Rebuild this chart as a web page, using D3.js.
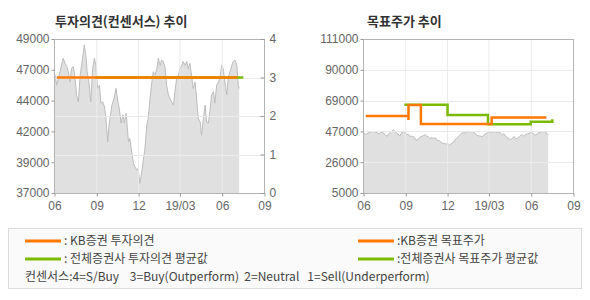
<!DOCTYPE html>
<html>
<head>
<meta charset="utf-8">
<script src="https://cdn.jsdelivr.net/npm/d3@7"></script>
<style>
    body { margin: 0; background: #fff; }
    svg text { font-family: "Liberation Sans", Arial, sans-serif; }
    .title { font-family: "Noto Sans CJK KR", sans-serif; font-weight: bold; font-size: 13px; fill: #333; }
    .axis text { fill: #666; font-size: 12px; }
    .legend text { font-family: "Noto Sans CJK KR", sans-serif; font-size: 12px; fill: #444; white-space: pre; }
</style>
</head>
<body>
<svg id="chart" width="590" height="300"></svg>
<script>
// x축 눈금
const xTickDates = ["2018-06-01", "2018-09-01", "2018-12-01", "2019-03-01", "2019-06-01", "2019-09-01"];
const xTickLabels = ["06", "09", "12", "19/03", "06", "09"];

// 왼쪽 차트 눈금
const priceTicksLeft = [37000, 39400, 41800, 44200, 46600, 49000];
const priceLabelsLeft = ["37000", "39000", "42000", "44000", "47000", "49000"];
const opinionTicks = [0, 1, 2, 3, 4];

// 오른쪽 차트 눈금
const priceTicksRight = [5000, 26200, 47400, 68600, 89800, 111000];
const priceLabelsRight = ["5000", "26000", "47000", "69000", "90000", "111000"];

// 주가
const closePrices = [
    ["2018-06-01", 46000], ["2018-06-03", 46200], ["2018-06-07", 45400], ["2018-06-14", 46450],
    ["2018-06-21", 47500], ["2018-06-25", 47100], ["2018-06-29", 46850], ["2018-07-02", 46450],
    ["2018-07-06", 45650], ["2018-07-09", 46700], ["2018-07-13", 46850], ["2018-07-17", 45950],
    ["2018-07-20", 44650], ["2018-07-24", 44100], ["2018-07-28", 46200], ["2018-07-31", 46950],
    ["2018-08-04", 48000], ["2018-08-06", 48550], ["2018-08-10", 47500], ["2018-08-12", 46450],
    ["2018-08-16", 45650], ["2018-08-20", 44100], ["2018-08-24", 46700], ["2018-08-28", 47500],
    ["2018-08-31", 46950], ["2018-09-04", 45150], ["2018-09-08", 45400], ["2018-09-11", 44000],
    ["2018-09-15", 44100], ["2018-09-19", 43700], ["2018-09-22", 42800], ["2018-09-26", 41000],
    ["2018-09-29", 42300], ["2018-10-05", 43850], ["2018-10-10", 44400], ["2018-10-14", 45150],
    ["2018-10-18", 44100], ["2018-10-21", 43600], ["2018-10-25", 42450], ["2018-10-29", 43100],
    ["2018-11-01", 42450], ["2018-11-05", 43200], ["2018-11-10", 41000], ["2018-11-13", 41250],
    ["2018-11-17", 40200], ["2018-11-21", 39300], ["2018-11-24", 39050], ["2018-11-28", 38800],
    ["2018-12-01", 38900], ["2018-12-05", 37750], ["2018-12-09", 38650], ["2018-12-12", 39450],
    ["2018-12-16", 40500], ["2018-12-20", 42300], ["2018-12-23", 42800], ["2018-12-27", 44400],
    ["2018-12-31", 45650], ["2019-01-03", 46450], ["2019-01-07", 46200], ["2019-01-11", 46700],
    ["2019-01-14", 47500], ["2019-01-18", 46950], ["2019-01-21", 47350], ["2019-01-25", 47250],
    ["2019-01-29", 46700], ["2019-02-01", 45400], ["2019-02-05", 44650], ["2019-02-08", 44400],
    ["2019-02-12", 44100], ["2019-02-16", 43850], ["2019-02-19", 44900], ["2019-02-23", 45950],
    ["2019-02-27", 46200], ["2019-03-02", 46700], ["2019-03-06", 46950], ["2019-03-09", 47250],
    ["2019-03-13", 46950], ["2019-03-17", 47250], ["2019-03-20", 46700], ["2019-03-24", 47100],
    ["2019-03-28", 45950], ["2019-03-31", 45150], ["2019-04-04", 45650], ["2019-04-08", 44100],
    ["2019-04-11", 42800], ["2019-04-15", 42550], ["2019-04-18", 41500], ["2019-04-22", 42800],
    ["2019-04-26", 43850], ["2019-04-29", 42550], ["2019-05-03", 42450], ["2019-05-07", 43600],
    ["2019-05-10", 44650], ["2019-05-14", 44900], ["2019-05-17", 44000], ["2019-05-21", 45400],
    ["2019-05-25", 45650], ["2019-05-28", 45950], ["2019-06-01", 46950], ["2019-06-04", 46700],
    ["2019-06-08", 45650], ["2019-06-12", 44650], ["2019-06-15", 45950], ["2019-06-19", 46450],
    ["2019-06-23", 46950], ["2019-06-26", 47250], ["2019-06-30", 47350], ["2019-07-04", 46950],
    ["2019-07-07", 45400], ["2019-07-09", 45150]
];

// 투자의견
const kbOpinion = [["2018-06-07", 3], ["2019-07-05", 3]];
const avgOpinion = [["2018-08-30", 3], ["2019-07-18", 3]];

// 목표주가
const kbTarget = [
    ["2018-06-07", 58000], ["2018-09-08", 55300], ["2018-09-08", 65600],
    ["2018-10-05", 52500], ["2019-03-08", 57000], ["2019-07-05", 57000]
];
const avgTarget = [
    ["2018-08-30", 65800], ["2018-12-02", 58700], ["2019-02-28", 52400],
    ["2019-06-01", 54100], ["2019-07-18", 55700]
];

const ORANGE = "#ff7800";
const GREEN = "#7cba00";
const parse = d3.timeParse("%Y-%m-%d");
const svg = d3.select("#chart");

// 공통 패널 (틀, 격자, 주가 영역)
function createPanel(left, top, yDomain, yTicks, yLabels, title, gridValues, gridScale) {
    const width = 210;
    const height = 154;

    const g = svg.append("g").attr("transform", `translate(${left},${top})`);

    const x = d3.scaleTime()
        .domain([parse(xTickDates[0]), parse(xTickDates[xTickDates.length - 1])])
        .range([0, width]);

    const y = d3.scaleLinear().domain(yDomain).range([height, 0]);
    const gy = gridScale ? gridScale : y;

    g.append("text")
        .attr("class", "title")
        .attr("x", title.dx)
        .attr("y", -13)
        .text(title.text);

    // 주가 영역
    g.append("path")
        .datum(closePrices)
        .attr("d", d3.area()
            .x(d => x(parse(d[0])))
            .y0(height)
            .y1(d => y(d[1])))
        .attr("fill", "#e0e0e0");

    g.append("path")
        .datum(closePrices)
        .attr("d", d3.line()
            .x(d => x(parse(d[0])))
            .y(d => y(d[1])))
        .attr("fill", "none")
        .attr("stroke", "#bdbdbd")
        .attr("stroke-width", 1);

    // 격자
    g.append("g").selectAll("line")
        .data(xTickDates.slice(1, -1))
        .join("line")
        .attr("x1", d => x(parse(d)) + 0.5)
        .attr("x2", d => x(parse(d)) + 0.5)
        .attr("y1", 0)
        .attr("y2", height)
        .attr("stroke", "#ebebeb");

    g.append("g").selectAll("line")
        .data(gridValues)
        .join("line")
        .attr("x1", 0)
        .attr("x2", width)
        .attr("y1", d => Math.round(gy(d)) + 0.5)
        .attr("y2", d => Math.round(gy(d)) + 0.5)
        .attr("stroke", "#ebebeb");

    // 틀
    g.append("rect")
        .attr("x", 0.5)
        .attr("y", 0.5)
        .attr("width", width)
        .attr("height", height)
        .attr("fill", "none")
        .attr("stroke", "#b4b4b4");

    g.append("g")
        .attr("class", "axis")
        .attr("transform", `translate(0.5,${height + 0.5})`)
        .call(d3.axisBottom(x)
            .tickValues(xTickDates.map(parse))
            .tickFormat((d, i) => xTickLabels[i])
            .tickSize(3)
            .tickSizeOuter(0)
            .tickPadding(5));

    g.append("g")
        .attr("class", "axis")
        .attr("transform", "translate(0.5,0)")
        .call(d3.axisLeft(y)
            .tickValues(yTicks)
            .tickFormat((d, i) => yLabels[i])
            .tickSize(3)
            .tickSizeOuter(0)
            .tickPadding(2));

    g.selectAll(".axis .domain").remove();
    g.selectAll(".axis line").attr("stroke", "#999");

    return { g, x, y, width, height };
}

function drawStep(panel, data, yScale, color) {
    panel.g.append("path")
        .datum(data)
        .attr("d", d3.line()
            .curve(d3.curveStepAfter)
            .x(d => panel.x(parse(d[0])))
            .y(d => yScale(d[1])))
        .attr("fill", "none")
        .attr("stroke", color)
        .attr("stroke-width", 2.5);
}

// 투자의견(컨센서스) 추이
const opinionScale = d3.scaleLinear().domain([0, 4]).range([154, 0]);
const leftPanel = createPanel(54, 39, [37000, 49000], priceTicksLeft, priceLabelsLeft,
    { text: "투자의견(컨센서스) 추이", dx: 1 }, [1, 2, 3], opinionScale);

leftPanel.g.append("g")
    .attr("class", "axis")
    .attr("transform", `translate(${leftPanel.width + 0.5},0)`)
    .call(d3.axisRight(opinionScale)
        .tickValues(opinionTicks)
        .tickFormat(d3.format("d"))
        .tickSize(-4)
        .tickSizeOuter(0)
        .tickPadding(5));
leftPanel.g.selectAll(".axis .domain").remove();
leftPanel.g.selectAll(".axis line").attr("stroke", "#999");

drawStep(leftPanel, avgOpinion, opinionScale, GREEN);
drawStep(leftPanel, kbOpinion, opinionScale, ORANGE);

// 목표주가 추이
const rightPanel = createPanel(363, 39, [5000, 111000], priceTicksRight, priceLabelsRight,
    { text: "목표주가 추이", dx: 4 }, priceTicksRight.slice(1, -1), null);

drawStep(rightPanel, avgTarget, rightPanel.y, GREEN);
drawStep(rightPanel, kbTarget, rightPanel.y, ORANGE);

// 범례
const legend = svg.append("g").attr("class", "legend");

legend.append("rect")
    .attr("x", 8.5)
    .attr("y", 228.5)
    .attr("width", 573)
    .attr("height", 60)
    .attr("fill", "#fafafa")
    .attr("stroke", "#dcdcdc");

const legendItems = [
    { x: 25, y: 241, color: ORANGE, label: ": KB증권 투자의견" },
    { x: 25, y: 259, color: GREEN, label: ": 전체증권사 투자의견 평균값" },
    { x: 358, y: 241, color: ORANGE, label: ":KB증권 목표주가" },
    { x: 358, y: 259, color: GREEN, label: ":전체증권사 목표주가 평균값" }
];

legendItems.forEach(item => {
    legend.append("line")
        .attr("x1", item.x)
        .attr("x2", item.x + 36)
        .attr("y1", item.y)
        .attr("y2", item.y)
        .attr("stroke", item.color)
        .attr("stroke-width", 3);

    legend.append("text")
        .attr("x", item.x + 39)
        .attr("y", item.y + 4)
        .text(item.label);
});

legend.append("text")
    .attr("x", 25)
    .attr("y", 281)
    .text("컨센서스:4=S/Buy    3=Buy(Outperform)  2=Neutral   1=Sell(Underperform)");
</script>
</body>
</html>
